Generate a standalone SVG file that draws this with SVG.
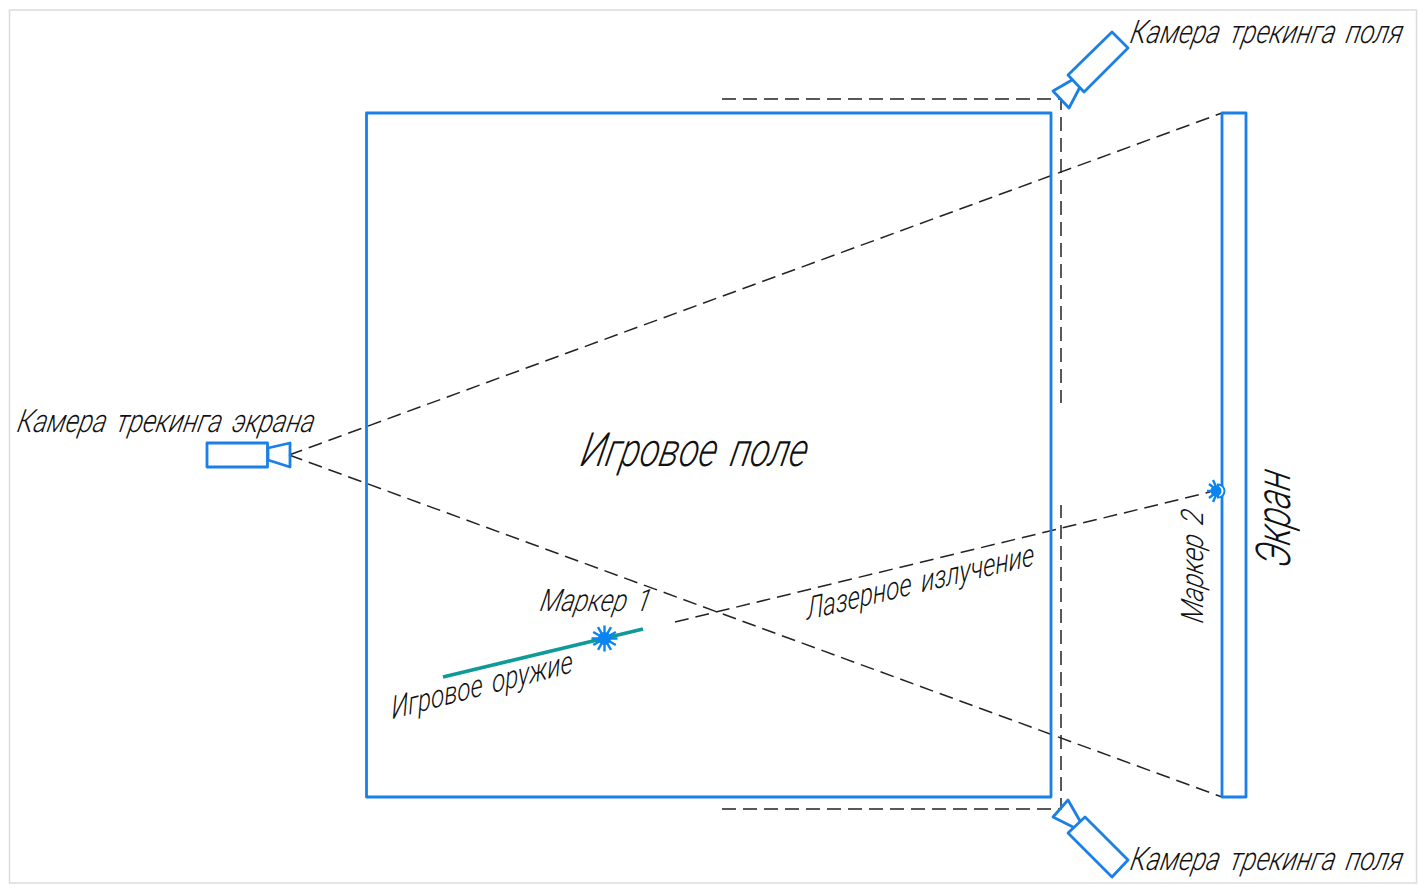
<svg xmlns="http://www.w3.org/2000/svg" width="1427" height="895" viewBox="0 0 1427 895">
<style>
.b{fill:none;stroke:#1a7fe6;stroke-width:2.800;stroke-linejoin:round}
.d{fill:none;stroke:#222;stroke-width:1.500;stroke-dasharray:14 7}
.t{font-family:"Roboto","Liberation Sans",sans-serif;font-style:italic;font-weight:300;fill:#111;font-size:32px;word-spacing:.15em}
.s{font-size:27px}
.m{stroke:#0a84f0;stroke-width:2.400;fill:none}
</style>
<defs>
<g id="burst" class="m"><path d="M-13 0H13M0-13V13M-11.300-6.500L11.300 6.500M-11.300 6.500L11.300-6.500M-6.500-11.300L6.500 11.300M-6.500 11.300L6.500-11.300"/><circle r="6.500" fill="#0a84f0" stroke="none"/></g>
</defs>
<rect width="1427" height="895" fill="#fff"/>
<rect x="9.500" y="10" width="1407" height="873" fill="none" stroke="#dcdcdc" stroke-width="1.500"/>
<g id="connectors">
<path class="d" d="M289 455L1222 113"/>
<path class="d" d="M289 455L1222 797"/>
<path class="d" d="M675 622L1210 492"/>
<path class="d" d="M722 99H1061V403"/>
<path class="d" d="M722 809H1061V505"/>
</g>
<g id="field"><rect class="b" x="366.500" y="113" width="684.500" height="684"/><text class="t" transform="translate(579 466) skewX(-12)" style="font-size:47px" textLength="226" lengthAdjust="spacingAndGlyphs">Игровое поле</text></g>
<g id="screen"><rect class="b" x="1222" y="113" width="24" height="684"/><text class="t" transform="translate(1290 569) rotate(-90) skewX(-12)" style="font-size:48px" textLength="96" lengthAdjust="spacingAndGlyphs">Экран</text></g>
<g id="camera-screen"><rect class="b" x="207" y="443" width="60.500" height="24"/><path class="b" d="M268 448L290 443V467L268 460Z"/><text class="t" transform="translate(16 432) skewX(-12)" textLength="297" lengthAdjust="spacingAndGlyphs">Камера трекинга экрана</text></g>
<g id="camera-top"><path class="b" d="M1112 32L1128 48L1084 92L1068 75Z"/><path class="b" d="M1072 80L1053 91L1069 108L1080 87"/><text class="t s" transform="translate(1129 43) skewX(-12) scale(1 1.200)" textLength="272" lengthAdjust="spacingAndGlyphs">Камера трекинга поля</text></g>
<g id="camera-bottom"><path class="b" d="M1085 817L1128 860L1112 877L1068 833Z"/><path class="b" d="M1073 827L1053 817L1068 800L1080 821"/><text class="t s" transform="translate(1129 870) skewX(-12) scale(1 1.200)" textLength="272" lengthAdjust="spacingAndGlyphs">Камера трекинга поля</text></g>
<g id="weapon"><path d="M443 677L643 629" stroke="#0f9a98" stroke-width="3.600" fill="none"/><text class="t" transform="translate(392 719) rotate(-14.500) skewX(-12)" textLength="187" lengthAdjust="spacingAndGlyphs" style="font-size:31px">Игровое оружие</text></g>
<g id="marker-1"><use href="#burst" x="604.500" y="638.500"/><text class="t" transform="translate(539 611) skewX(-12)" textLength="110" lengthAdjust="spacingAndGlyphs" style="font-size:31px">Маркер 1</text></g>
<g id="marker-2"><path class="m" d="M1218 491H1207M1218 491L1209 484M1218 491L1209 498M1218 491L1213 480M1218 491L1213 502"/><path d="M1218 484.500A6.500 6.500 0 0 1 1218 497.500Z" fill="#fff" stroke="#0a84f0" stroke-width="2"/><circle cx="1216" cy="491" r="5.500" fill="#0a84f0"/><text class="t" transform="translate(1203 624) rotate(-90) skewX(-12)" textLength="112" lengthAdjust="spacingAndGlyphs" style="font-size:31px">Маркер 2</text></g>
<g id="laser-label"><text class="t" transform="translate(807 620) rotate(-13.600) skewX(-12)" textLength="234" lengthAdjust="spacingAndGlyphs" style="font-size:31px">Лазерное излучение</text></g>
</svg>
